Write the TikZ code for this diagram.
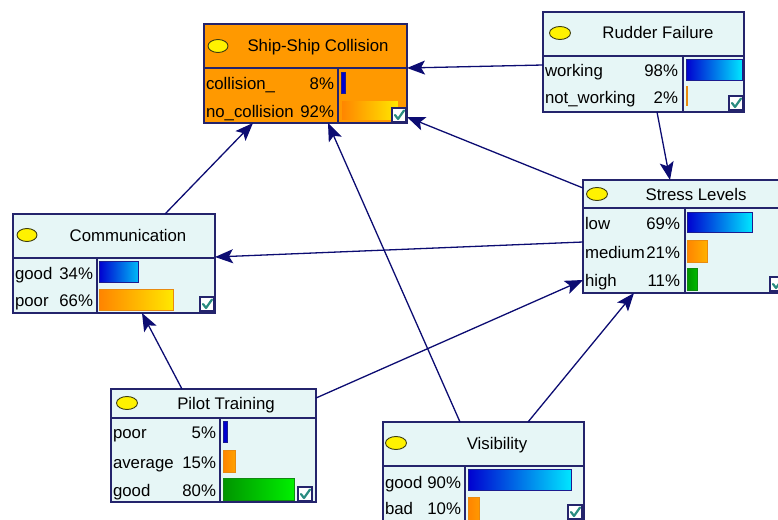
\documentclass[tikz,border=0pt]{standalone}
\usepackage{fontspec}
\setmainfont{Liberation Sans}
\usetikzlibrary{arrows.meta}

\definecolor{nodebg}{HTML}{E6F6F6}
\definecolor{shiporange}{HTML}{FF9900}
\definecolor{frame}{HTML}{24246C}
\definecolor{linkblue}{HTML}{0C0C72}
\definecolor{barblueA}{HTML}{0000D0}
\definecolor{barblueB}{HTML}{00E6FF}
\definecolor{barblueE}{HTML}{1C1C90}
\definecolor{barorA}{HTML}{FF8400}
\definecolor{barorB}{HTML}{FFE800}
\definecolor{barorE}{HTML}{E88A10}
\definecolor{bargrA}{HTML}{009400}
\definecolor{bargrB}{HTML}{00F000}
\definecolor{bargrE}{HTML}{108A10}
\definecolor{ticktea}{HTML}{2A8C80}
\definecolor{ovalrim}{HTML}{3C3C10}

\tikzset{
  bnbox/.style={draw=frame, line width=1.3pt, fill=nodebg, anchor=north west,
    inner sep=0pt, outer sep=0pt},
  sepline/.style={draw=frame, line width=1.3pt},
  lbl/.style={font=\fontsize{16.8}{19}\selectfont, inner sep=0pt, outer sep=0pt, text=black},
  link/.style={draw=linkblue, line width=1.3pt,
    -{Stealth[length=18pt,width=14pt,inset=4pt]}},
  bluebar/.style={draw=barblueE, line width=0.9pt, left color=barblueA, right color=#1},
  orangebar/.style={draw=barorE, line width=0.9pt, left color=barorA, right color=#1},
  greenbar/.style={draw=bargrE, line width=0.9pt, left color=bargrA, right color=#1},
  tickbox/.style={draw=frame, line width=1.1pt, fill=white, minimum width=14pt,
    minimum height=14pt, inner sep=0pt, outer sep=0pt, anchor=north west},
  tickmark/.style={draw=ticktea, line width=2.2pt, line cap=round, line join=round},
  oval/.style={draw=ovalrim, line width=0.9pt, fill=yellow},
}

% one state row: name prefix, left x, right x of the percentage, row centre y, state, value
\newcommand\bnrow[6]{%
  \node[lbl, anchor=base west] (#1-l) at (#2,#4+6) {#5};
  \node[lbl, anchor=base east] (#1-p) at (#3,#4+6) {#6};}
% check box: name, top left x, top left y
\newcommand\bntick[3]{%
  \node[tickbox] (#1) at (#2,#3) {};
  \draw[tickmark] ([shift={(3,7)}]#1.north west) -- ([shift={(6,11)}]#1.north west)
    -- ([shift={(12,2.5)}]#1.north west);}

\begin{document}
\begin{tikzpicture}[x=1pt, y=-1pt]
\useasboundingbox (0,0) rectangle (778,519);
\clip (0,0) rectangle (778,519);

% ---------------- Ship-Ship Collision ----------------
\node[bnbox, fill=shiporange, minimum width=203pt, minimum height=99pt] (ship) at (204,24) {};
\draw[sepline] (ship.west |- 0,68) -- (ship.east |- 0,68);
\draw[sepline] (338,68) -- (ship.south -| 338,0);
\draw[oval] (218,46) ellipse [x radius=10pt, y radius=6.5pt];
\node[lbl, anchor=base] (ship-title) at (318,52) {Ship-Ship Collision};
\bnrow{ship-a}{206}{334}{83}{collision\_}{8\%}
\bnrow{ship-b}{206}{334}{111}{no\_collision}{92\%}
\draw[bluebar=barblueA] (341,72) rectangle (345,93);
\draw[orangebar=barorB, draw=shiporange] (341,100) rectangle (398,120);
\bntick{ship-tick}{392}{108}

% ---------------- Rudder Failure ----------------
\node[bnbox, minimum width=201pt, minimum height=100pt] (rudder) at (543,12) {};
\draw[sepline] (rudder.west |- 0,56) -- (rudder.east |- 0,56);
\draw[sepline] (683,56) -- (rudder.south -| 683,0);
\draw[oval] (560,33) ellipse [x radius=10.5pt, y radius=6.5pt];
\node[lbl, anchor=base] (rudder-title) at (658,39) {Rudder Failure};
\bnrow{rudder-a}{545}{678}{70}{working}{98\%}
\bnrow{rudder-b}{545}{678}{97}{not\_working}{2\%}
\draw[bluebar=barblueB] (686,59) rectangle (742,80);
\draw[orangebar=barorA] (686,86) rectangle (687.5,105);
\bntick{rudder-tick}{729}{96}

% ---------------- Stress Levels ----------------
\node[bnbox, minimum width=205pt, minimum height=113pt] (stress) at (583,180) {};
\draw[sepline] (stress.west |- 0,208) -- (stress.east |- 0,208);
\draw[sepline] (685,208) -- (stress.south -| 685,0);
\draw[oval] (597,194) ellipse [x radius=10.5pt, y radius=6.5pt];
\node[lbl, anchor=base] (stress-title) at (696,200) {Stress Levels};
\bnrow{stress-a}{585}{680}{223}{low}{69\%}
\bnrow{stress-b}{585}{680}{252}{medium}{21\%}
\bnrow{stress-c}{585}{680}{280}{high}{11\%}
\draw[bluebar=barblueB] (687,212) rectangle (752,232);
\draw[orangebar=barorB!45!barorA] (687,240) rectangle (707,262);
\draw[greenbar=bargrB!40!bargrA] (687,268) rectangle (697,290);
\bntick{stress-tick}{770}{277}

% ---------------- Communication ----------------
\node[bnbox, minimum width=202pt, minimum height=99pt] (comm) at (13,214) {};
\draw[sepline] (comm.west |- 0,258) -- (comm.east |- 0,258);
\draw[sepline] (97,258) -- (comm.south -| 97,0);
\draw[oval] (27,235) ellipse [x radius=10pt, y radius=6.5pt];
\node[lbl, anchor=base] (comm-title) at (128,241) {Communication};
\bnrow{comm-a}{15}{93}{273}{good}{34\%}
\bnrow{comm-b}{15}{93}{300}{poor}{66\%}
\draw[bluebar=barblueB!80!barblueA] (99,261) rectangle (138,282);
\draw[orangebar=barorB] (99,289) rectangle (173,310);
\bntick{comm-tick}{200}{297}

% ---------------- Pilot Training ----------------
\node[bnbox, minimum width=205pt, minimum height=113pt] (pilot) at (111,389) {};
\draw[sepline] (pilot.west |- 0,418) -- (pilot.east |- 0,418);
\draw[sepline] (220,418) -- (pilot.south -| 220,0);
\draw[oval] (127,403) ellipse [x radius=10.5pt, y radius=6.5pt];
\node[lbl, anchor=base] (pilot-title) at (226,409) {Pilot Training};
\bnrow{pilot-a}{113}{216}{432}{poor}{5\%}
\bnrow{pilot-b}{113}{216}{462}{average}{15\%}
\bnrow{pilot-c}{113}{216}{490}{good}{80\%}
\draw[bluebar=barblueA] (223,421) rectangle (227,442);
\draw[orangebar=barorB!30!barorA] (223,450) rectangle (235,472);
\draw[greenbar=bargrB] (223,478) rectangle (294,500);
\bntick{pilot-tick}{298}{487}

% ---------------- Visibility ----------------
\node[bnbox, minimum width=201pt, minimum height=110pt] (vis) at (383,422) {};
\draw[sepline] (vis.west |- 0,466) -- (vis.east |- 0,466);
\draw[sepline] (465,466) -- (vis.south -| 465,0);
\draw[oval] (396,443) ellipse [x radius=10.5pt, y radius=6.5pt];
\node[lbl, anchor=base] (vis-title) at (497,449) {Visibility};
\bnrow{vis-a}{385}{461}{482}{good}{90\%}
\bnrow{vis-b}{385}{461}{508}{bad}{10\%}
\draw[bluebar=barblueB] (468,469) rectangle (571,490);
\draw[orangebar=barorB!20!barorA] (468,497) rectangle (479,530);
\bntick{vis-tick}{568}{505}

% ---------------- influence arcs ----------------
\draw[link] (rudder.west |- 0,65) -- (ship.east |- 0,68);
\draw[link] (rudder.south -| 657,0) -- (stress.north -| 670,0);
\draw[link] (stress.west |- 0,188) -- (ship.east |- 0,117);
\draw[link] (stress.west |- 0,242) -- (comm.east |- 0,257);
\draw[link] (comm.north -| 165,0) -- (ship.south -| 253,0);
\draw[link] (vis.north -| 460,0) -- (ship.south -| 328,0);
\draw[link] (vis.north -| 528,0) -- (stress.south -| 634,0);
\draw[link] (pilot.north -| 182,0) -- (comm.south -| 142,0);
\draw[link] (pilot.east |- 0,398) -- (stress.west |- 0,280);
\end{tikzpicture}
\end{document}
